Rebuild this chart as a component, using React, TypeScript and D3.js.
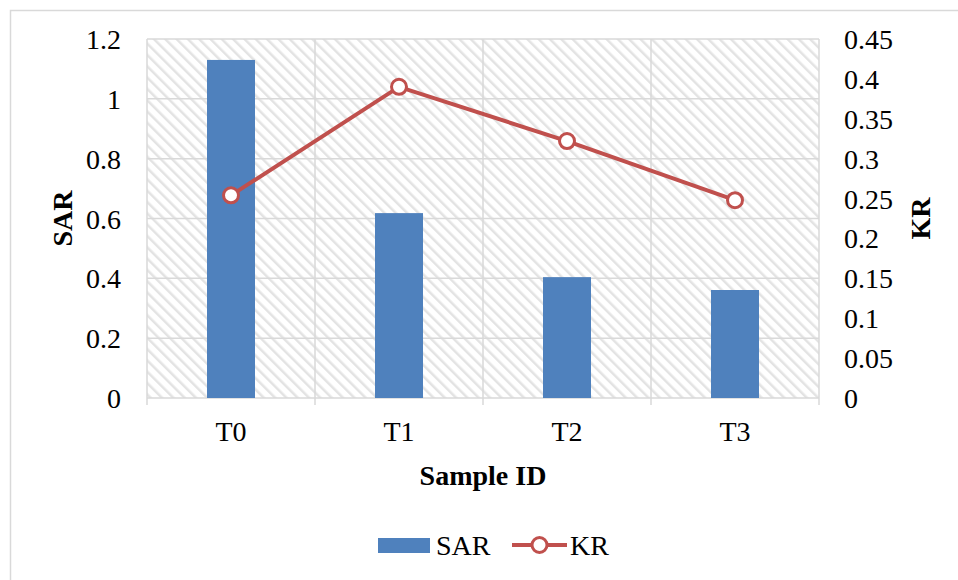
import { useEffect, useRef } from "react";
import * as d3 from "d3";

const categories = ["T0", "T1", "T2", "T3"];
const sarValues = [1.13, 0.618, 0.404, 0.361];
const krValues = [0.254, 0.39, 0.322, 0.248];
const sarTicks = [0, 0.2, 0.4, 0.6, 0.8, 1, 1.2];
const krTicks = [0, 0.05, 0.1, 0.15, 0.2, 0.25, 0.3, 0.35, 0.4, 0.45];

const W = 958,
  H = 580,
  left = 147,
  right = 819,
  top = 39,
  bottom = 398,
  font = "'Liberation Serif', 'Times New Roman', serif",
  grid = "#d9d9d9",
  barColor = "#4f81bd",
  lineColor = "#c0504d";

export default function App() {
  const ref = useRef<SVGSVGElement>(null);

  useEffect(() => {
    const svg = d3.select(ref.current);
    svg.selectAll("*").remove();

    const x = d3.scaleBand().domain(categories).range([left, right]);
    const ySar = d3.scaleLinear().domain([0, 1.2]).range([bottom, top]);
    const yKr = d3.scaleLinear().domain([0, 0.45]).range([bottom, top]);

    const defs = svg.append("defs");
    const pat = defs
      .append("pattern")
      .attr("id", "hatch")
      .attr("patternUnits", "userSpaceOnUse")
      .attr("width", 8)
      .attr("height", 8)
      .attr("patternTransform", "rotate(-45)");
    pat.append("rect").attr("width", 8).attr("height", 8).attr("fill", "#fff");
    pat
      .append("rect")
      .attr("x", 0)
      .attr("width", 2.5)
      .attr("height", 8)
      .attr("fill", "#e3e3e3");

    // outer border
    svg
      .append("rect")
      .attr("x", 10.5)
      .attr("y", 10.5)
      .attr("width", W)
      .attr("height", H)
      .attr("fill", "#fff")
      .attr("stroke", grid)
      .attr("stroke-width", 1.5);

    // plot background
    svg
      .append("rect")
      .attr("x", left)
      .attr("y", top)
      .attr("width", right - left)
      .attr("height", bottom - top)
      .attr("fill", "url(#hatch)");

    // horizontal gridlines
    svg
      .append("g")
      .selectAll("line")
      .data(sarTicks)
      .enter()
      .append("line")
      .attr("x1", left)
      .attr("x2", right)
      .attr("y1", (d) => ySar(d))
      .attr("y2", (d) => ySar(d))
      .attr("stroke", grid)
      .attr("stroke-width", 1.5);

    // vertical gridlines at category boundaries, with ticks below axis
    const bounds = categories.map((c) => x(c)!).concat([right]);
    svg
      .append("g")
      .selectAll("line")
      .data(bounds)
      .enter()
      .append("line")
      .attr("x1", (d) => d)
      .attr("x2", (d) => d)
      .attr("y1", top)
      .attr("y2", bottom + 7)
      .attr("stroke", grid)
      .attr("stroke-width", 1.5);

    // bars
    const bw = 48;
    svg
      .append("g")
      .selectAll("rect")
      .data(sarValues)
      .enter()
      .append("rect")
      .attr("x", (d, i) => x(categories[i])! + x.bandwidth() / 2 - bw / 2)
      .attr("y", (d) => ySar(d))
      .attr("width", bw)
      .attr("height", (d) => bottom - ySar(d))
      .attr("fill", barColor);

    // KR line
    const line = d3
      .line<number>()
      .x((d, i) => x(categories[i])! + x.bandwidth() / 2)
      .y((d) => yKr(d));
    svg
      .append("path")
      .datum(krValues)
      .attr("d", line)
      .attr("fill", "none")
      .attr("stroke", lineColor)
      .attr("stroke-width", 4);
    svg
      .append("g")
      .selectAll("circle")
      .data(krValues)
      .enter()
      .append("circle")
      .attr("cx", (d, i) => x(categories[i])! + x.bandwidth() / 2)
      .attr("cy", (d) => yKr(d))
      .attr("r", 7.5)
      .attr("fill", "#fff")
      .attr("stroke", lineColor)
      .attr("stroke-width", 3);

    const text = (sel: any) =>
      sel.attr("font-family", font).attr("font-size", 28).attr("fill", "#000");

    // left ticks
    svg
      .append("g")
      .selectAll("text")
      .data(sarTicks)
      .enter()
      .append("text")
      .call(text)
      .attr("x", 121)
      .attr("y", (d) => ySar(d) + 10)
      .attr("text-anchor", "end")
      .text((d) => d3.format("~g")(d));

    // right ticks
    svg
      .append("g")
      .selectAll("text")
      .data(krTicks)
      .enter()
      .append("text")
      .call(text)
      .attr("x", 844)
      .attr("y", (d) => yKr(d) + 10)
      .attr("text-anchor", "start")
      .text((d) => d3.format("~g")(d));

    // category labels
    svg
      .append("g")
      .selectAll("text")
      .data(categories)
      .enter()
      .append("text")
      .call(text)
      .attr("x", (d) => x(d)! + x.bandwidth() / 2)
      .attr("y", 441)
      .attr("text-anchor", "middle")
      .text((d) => d);

    // axis titles
    svg
      .append("text")
      .call(text)
      .attr("font-weight", "bold")
      .attr("x", (left + right) / 2)
      .attr("y", 485)
      .attr("text-anchor", "middle")
      .text("Sample ID");
    svg
      .append("text")
      .call(text)
      .attr("font-weight", "bold")
      .attr("transform", `translate(72,${(top + bottom) / 2}) rotate(-90)`)
      .attr("text-anchor", "middle")
      .text("SAR");
    svg
      .append("text")
      .call(text)
      .attr("font-weight", "bold")
      .attr("transform", `translate(930,${(top + bottom) / 2}) rotate(-90)`)
      .attr("text-anchor", "middle")
      .text("KR");

    // legend
    const lg = svg.append("g");
    lg.append("rect")
      .attr("x", 378)
      .attr("y", 538)
      .attr("width", 52)
      .attr("height", 15)
      .attr("fill", barColor);
    lg.append("text").call(text).attr("x", 436).attr("y", 555).text("SAR");
    lg.append("line")
      .attr("x1", 512)
      .attr("x2", 567)
      .attr("y1", 545)
      .attr("y2", 545)
      .attr("stroke", lineColor)
      .attr("stroke-width", 4);
    lg.append("circle")
      .attr("cx", 539.5)
      .attr("cy", 545)
      .attr("r", 7.5)
      .attr("fill", "#fff")
      .attr("stroke", lineColor)
      .attr("stroke-width", 3);
    lg.append("text").call(text).attr("x", 570).attr("y", 555).text("KR");
  }, []);

  return (
    <svg
      ref={ref}
      width={W}
      height={H}
      style={{ position: "absolute", left: 0, top: 0 }}
    />
  );
}
